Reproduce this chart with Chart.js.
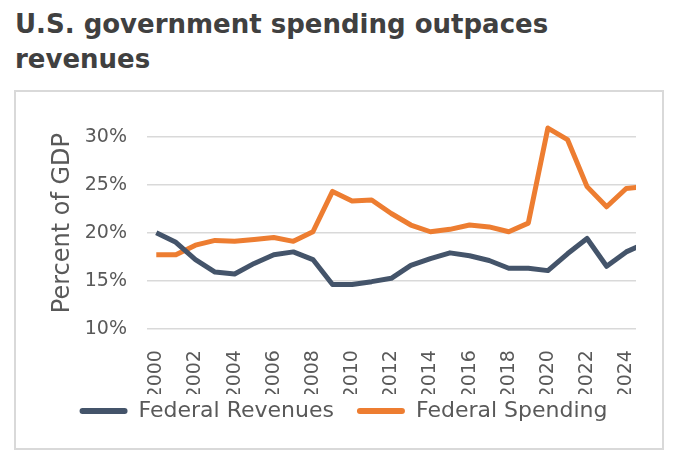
<!DOCTYPE html>
<html>
<head>
<meta charset="utf-8">
<script src="https://cdn.jsdelivr.net/npm/chart.js@4/dist/chart.umd.min.js"></script>
<style>
  body { margin: 0; width: 677px; height: 458px; background: #fff; position: relative; overflow: hidden; }
  #title {
    position: absolute; left: 15px; top: 7px; width: 650px;
    font-family: "DejaVu Sans"; font-weight: bold; font-size: 26px; line-height: 35px;
    color: #404040;
  }
  #box {
    position: absolute; left: 14px; top: 90px; width: 650px; height: 360px;
    box-sizing: border-box; border: 2px solid #d9d9d9;
  }
  #chart { position: absolute; left: 0; top: 0; }
</style>
</head>
<body>
<div id="title">U.S. government spending outpaces<br>revenues</div>
<div id="box"></div>
<canvas id="chart" width="677" height="458"></canvas>
<script>
const years = [2000, 2001, 2002, 2003, 2004, 2005, 2006, 2007, 2008, 2009, 2010, 2011, 2012,
               2013, 2014, 2015, 2016, 2017, 2018, 2019, 2020, 2021, 2022, 2023, 2024, 2025];
const revenues = [20.0, 19.0, 17.2, 15.9, 15.7, 16.8, 17.7, 18.0, 17.2, 14.6, 14.6, 14.9, 15.25,
                  16.6, 17.3, 17.9, 17.6, 17.1, 16.3, 16.3, 16.05, 17.8, 19.4, 16.5, 18.0, 18.9];
const spending = [17.7, 17.7, 18.7, 19.2, 19.1, 19.3, 19.5, 19.1, 20.1, 24.3, 23.3, 23.4, 22.0,
                  20.8, 20.1, 20.35, 20.8, 20.6, 20.1, 21.0, 30.9, 29.7, 24.8, 22.7, 24.6, 24.8];
const xTickLabels = [2000, 2002, 2004, 2006, 2008, 2010, 2012, 2014, 2016, 2018, 2020, 2022, 2024];
const yTickLabels = [10, 15, 20, 25, 30];
const seriesNames = ["Federal Revenues", "Federal Spending"];

const textColor = '#595959';
Chart.defaults.font.family = '"DejaVu Sans"';
Chart.defaults.color = textColor;

function toPoints(values) {
  return values.map((v, i) => ({ x: years[i], y: v }));
}

// the x labels need a tall axis box (they get clipped to it),
// so pull the legend back up a bit after layout
const legendShift = {
  id: 'legendShift',
  afterLayout(chart) {
    const lg = chart.legend;
    if (!lg) return;
    lg.top -= 17;
    lg.bottom -= 17;
  }
};

const ctx = document.getElementById('chart');

new Chart(ctx, {
  type: 'line',
  data: {
    datasets: [{
      label: seriesNames[0],
      data: toPoints(revenues),
      borderColor: '#44546a',
      backgroundColor: '#44546a',
      borderWidth: 5,
      borderJoinStyle: 'round',
      pointRadius: 0,
      tension: 0
    }, {
      label: seriesNames[1],
      data: toPoints(spending),
      borderColor: '#ed7d31',
      backgroundColor: '#ed7d31',
      borderWidth: 5,
      borderJoinStyle: 'round',
      pointRadius: 0,
      tension: 0
    }]
  },
  options: {
    responsive: false,
    animation: false,
    devicePixelRatio: 1,
    layout: { padding: { left: 51, right: 41, top: 117.5, bottom: 9 } },
    scales: {
      x: {
        type: 'linear',
        min: 1999.5,
        max: 2024.5,
        grid: { display: false },
        border: { display: false },
        afterBuildTicks: (scale) => { scale.ticks = xTickLabels.map(v => ({ value: v })); },
        afterFit: (scale) => { scale.height = 65.3; },
        ticks: {
          autoSkip: false,
          minRotation: 90,
          maxRotation: 90,
          padding: 13.4,
          font: { size: 19 },
          callback: (v) => String(v)
        }
      },
      y: {
        min: 10,
        max: 32,
        grid: { color: '#d9d9d9', lineWidth: 1.5, drawTicks: false },
        border: { display: false },
        afterBuildTicks: (scale) => { scale.ticks = yTickLabels.map(v => ({ value: v })); },
        afterFit: (scale) => { scale.width = 95.5; },
        ticks: {
          padding: 19.5,
          font: { size: 19 },
          callback: (v) => v + '%'
        },
        title: {
          display: true,
          text: 'Percent of GDP',
          color: textColor,
          font: { size: 24, lineHeight: 1 },
          padding: { top: -0.5, bottom: 0 }
        }
      }
    },
    plugins: {
      legend: {
        position: 'bottom',
        labels: {
          boxWidth: 48,
          boxHeight: 6,
          padding: 23,
          color: textColor,
          font: { size: 22 },
          generateLabels: (chart) => {
            // legend samples drawn as short thick rounded bars
            const items = Chart.defaults.plugins.legend.labels.generateLabels(chart);
            return items.map(it => Object.assign(it, {
              fillStyle: it.strokeStyle,
              lineWidth: 0,
              borderRadius: 3
            }));
          }
        }
      },
      tooltip: { enabled: false }
    }
  },
  plugins: [legendShift]
});
</script>
</body>
</html>
